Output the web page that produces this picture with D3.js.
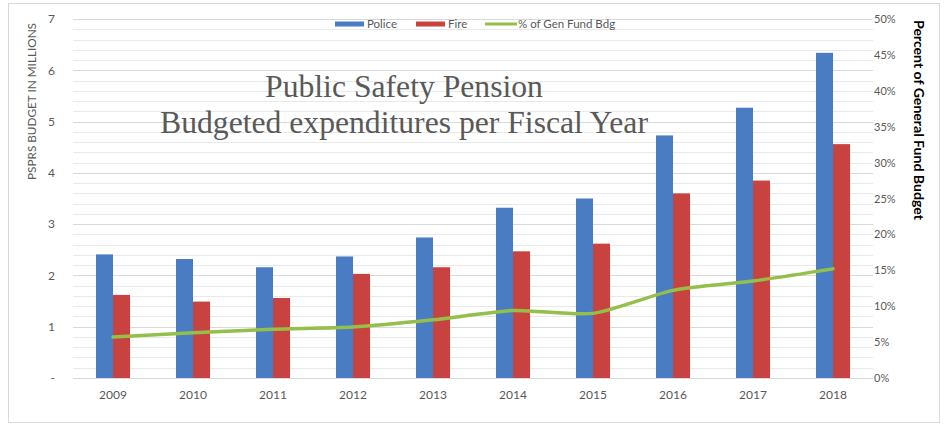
<!DOCTYPE html>
<html>
<head>
<meta charset="utf-8">
<script src="https://cdn.jsdelivr.net/npm/d3@7"></script>
<style>
  html, body { margin: 0; padding: 0; background: #fff; }
  svg { display: block; }
  text { font-family: Lato, "Open Sans", sans-serif; }
</style>
</head>
<body>
<svg id="chart" width="946" height="431"></svg>
<script>
// Fiscal years and budget figures (millions) for public safety pensions
const years = ["2009", "2010", "2011", "2012", "2013", "2014", "2015", "2016", "2017", "2018"];
const police = [2.41, 2.32, 2.16, 2.37, 2.74, 3.32, 3.50, 4.73, 5.27, 6.34];
const fire = [1.62, 1.49, 1.56, 2.03, 2.16, 2.47, 2.62, 3.60, 3.85, 4.56];
// Share of the general fund budget, in percent
const pctGenFund = [5.7, 6.3, 6.8, 7.1, 8.1, 9.4, 9.0, 12.2, 13.5, 15.2];

const leftTicks = [0, 1, 2, 3, 4, 5, 6, 7];
const leftTickLabels = ["-", "1", "2", "3", "4", "5", "6", "7"];
const rightTicks = [0, 5, 10, 15, 20, 25, 30, 35, 40, 45, 50];
const seriesNames = ["Police", "Fire", "% of Gen Fund Bdg"];
const titleLines = ["Public Safety Pension", "Budgeted expenditures per Fiscal Year"];

const colors = { Police: "#4a7cc4", Fire: "#c8433f", line: "#94bf4a" };
const textGray = "#595959";

const svg = d3.select("#chart");
const plot = { left: 73, right: 873, top: 19, bottom: 378 };

// chart frame
svg.append("rect")
  .attr("x", 8.5).attr("y", 3.5).attr("width", 931).attr("height", 419)
  .attr("fill", "#fff").attr("stroke", "#d9d9d9").attr("stroke-width", 1);

const x = d3.scaleBand().domain(years).range([plot.left, plot.right]).padding(0);
const xi = d3.scaleBand().domain(["Police", "Fire"])
  .range([x.bandwidth() / 2 - 17, x.bandwidth() / 2 + 17]);
const yL = d3.scaleLinear().domain([0, 7]).range([plot.bottom, plot.top]);
const yR = d3.scaleLinear().domain([0, 50]).range([plot.bottom, plot.top]);

// minor gridlines every 0.2 million, major every million
const minor = d3.range(0, 7.0001, 0.2).filter(v => Math.abs(v - Math.round(v)) > 1e-6);
svg.append("g").selectAll("line").data(minor).join("line")
  .attr("x1", plot.left).attr("x2", plot.right)
  .attr("y1", d => Math.round(yL(d)) + 0.5).attr("y2", d => Math.round(yL(d)) + 0.5)
  .attr("stroke", "#e9e9e9");
svg.append("g").selectAll("line").data(leftTicks).join("line")
  .attr("x1", plot.left).attr("x2", plot.right)
  .attr("y1", d => Math.round(yL(d)) + 0.5).attr("y2", d => Math.round(yL(d)) + 0.5)
  .attr("stroke", "#d9d9d9");

// left axis labels
const axL = svg.append("g").attr("transform", `translate(${plot.left},0)`)
  .call(d3.axisLeft(yL).tickValues(leftTicks).tickSize(0).tickPadding(18)
    .tickFormat((d, i) => leftTickLabels[i]));
axL.select(".domain").remove();
axL.selectAll("text").attr("fill", textGray).style("font-size", "12px")
  .style("font-family", "Lato, sans-serif");

// right axis labels
const axR = svg.append("g").attr("transform", `translate(${plot.right},0)`)
  .call(d3.axisRight(yR).tickValues(rightTicks).tickSize(0).tickPadding(1)
    .tickFormat(d => d + "%"));
axR.select(".domain").remove();
axR.selectAll("text").attr("fill", textGray).style("font-size", "11px")
  .style("font-family", "Lato, sans-serif");

// bottom axis
const axB = svg.append("g").attr("transform", `translate(0,${plot.bottom})`)
  .call(d3.axisBottom(x).tickSize(0).tickPadding(12));
axB.select(".domain").remove();
axB.selectAll("text").attr("fill", textGray).style("font-size", "12px")
  .style("font-family", "Lato, sans-serif");

// title
const title = svg.append("g");
const tLines = title.selectAll("text").data(titleLines).join("text")
  .attr("x", 404).attr("y", (d, i) => i === 0 ? 97 : 133)
  .attr("text-anchor", "middle")
  .attr("fill", textGray)
  .style("font-family", "'Liberation Serif', 'DejaVu Serif', serif")
  .style("font-size", "100px")
  .text(d => d);
const w2 = tLines.filter((d, i) => i === 1).node().getComputedTextLength();
tLines.style("font-size", (100 * 488 / w2).toFixed(2) + "px");

// bars
const barData = [];
years.forEach((yr, i) => {
  barData.push({ year: yr, series: "Police", value: police[i] });
  barData.push({ year: yr, series: "Fire", value: fire[i] });
});
svg.append("g").selectAll("rect").data(barData).join("rect")
  .attr("x", d => x(d.year) + xi(d.series))
  .attr("width", xi.bandwidth())
  .attr("y", d => yL(d.value))
  .attr("height", d => yL(0) - yL(d.value))
  .attr("fill", d => colors[d.series]);

// percent of general fund line
const line = d3.line()
  .x((d, i) => x(years[i]) + x.bandwidth() / 2)
  .y(d => yR(d))
  .curve(d3.curveCardinal.tension(0.3));
svg.append("path").datum(pctGenFund)
  .attr("d", line)
  .attr("fill", "none")
  .attr("stroke", colors.line)
  .attr("stroke-width", 3.5)
  .attr("stroke-linejoin", "round")
  .attr("stroke-linecap", "round");

// axis titles
const leftTitle = svg.append("text")
  .attr("transform", "translate(36,23) rotate(-90)")
  .attr("text-anchor", "end")
  .attr("fill", textGray)
  .style("font-size", "10px")
  .text("PSPRS BUDGET IN MILLIONS");
const lw = leftTitle.node().getComputedTextLength();
leftTitle.style("font-size", (10 * 157 / lw).toFixed(2) + "px");

const rightTitle = svg.append("text")
  .attr("transform", "translate(914,20) rotate(90)")
  .attr("text-anchor", "start")
  .attr("fill", "#000")
  .style("font-weight", "bold")
  .style("font-size", "12px")
  .text("Percent of General Fund Budget");
const rw = rightTitle.node().getComputedTextLength();
rightTitle.style("font-size", (12 * 200 / rw).toFixed(2) + "px");

// legend
const legend = svg.append("g").attr("transform", "translate(335,24)");
const legendItems = [
  { name: seriesNames[0], kind: "bar", color: colors.Police, x: 0 },
  { name: seriesNames[1], kind: "bar", color: colors.Fire, x: 81 },
  { name: seriesNames[2], kind: "line", color: colors.line, x: 150 }
];
const li = legend.selectAll("g").data(legendItems).join("g")
  .attr("transform", d => `translate(${d.x},0)`);
li.filter(d => d.kind === "bar").append("rect")
  .attr("x", 0).attr("y", -2.5).attr("width", 29).attr("height", 5)
  .attr("fill", d => d.color);
li.filter(d => d.kind === "line").append("line")
  .attr("x1", 0).attr("x2", 32).attr("y1", 0).attr("y2", 0)
  .attr("stroke", d => d.color).attr("stroke-width", 3);
li.append("text")
  .attr("x", d => d.kind === "line" ? 33 : 32)
  .attr("y", 0).attr("dy", "0.35em")
  .attr("fill", textGray)
  .style("font-size", "11.5px")
  .text(d => d.name);
</script>
</body>
</html>
